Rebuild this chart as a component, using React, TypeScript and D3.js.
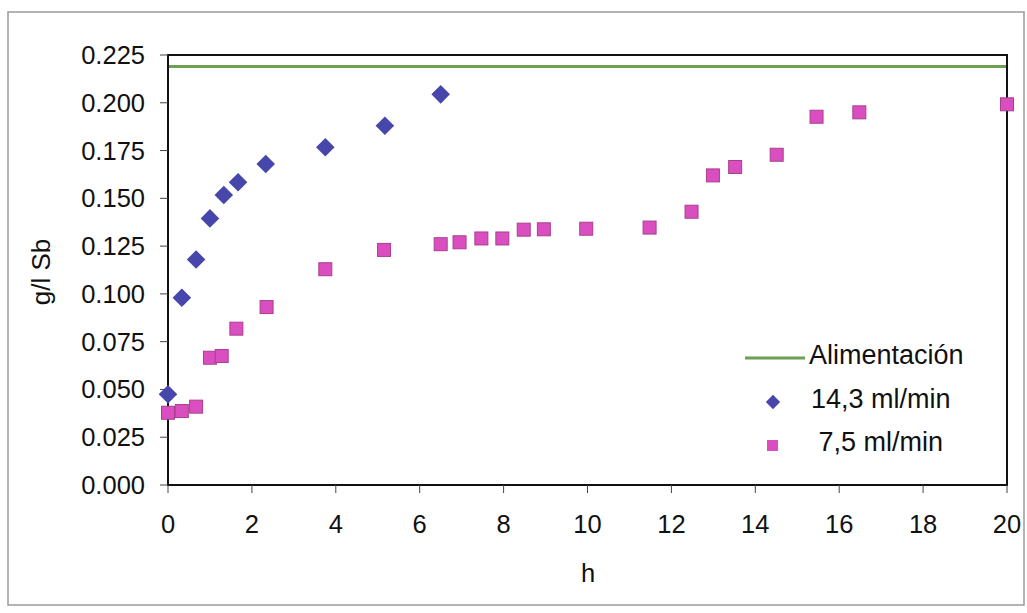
import React from "react";
import * as d3 from "d3";

const feedLevel = 0.219;
const fastX = [0, 0.33, 0.67, 1, 1.33, 1.67, 2.33, 3.75, 5.17, 6.5];
const fastY = [0.0475, 0.098, 0.118, 0.1395, 0.1517, 0.1584, 0.168, 0.1767, 0.188, 0.2044];
const slowX = [0, 0.33, 0.67, 1, 1.28, 1.63, 2.35, 3.75, 5.15, 6.5, 6.95, 7.47, 7.97, 8.48, 8.96, 9.97, 11.48, 12.48, 12.99, 13.52, 14.51, 15.46, 16.48, 20];
const slowY = [0.0378, 0.0387, 0.041, 0.0666, 0.0675, 0.0818, 0.0931, 0.1129, 0.123, 0.126, 0.127, 0.129, 0.129, 0.1336, 0.1338, 0.1341, 0.1347, 0.143, 0.162, 0.1664, 0.1728, 0.1927, 0.195, 0.1992];
const xTicks = [0, 2, 4, 6, 8, 10, 12, 14, 16, 18, 20];
const yTicks = [0, 0.025, 0.05, 0.075, 0.1, 0.125, 0.15, 0.175, 0.2, 0.225];
const legendLabels = ["Alimentación", "14,3 ml/min", " 7,5 ml/min"];

const W = 1027;
const H = 613;
const L = 168, R = 1007, T = 55, B = 485;

export default function App() {
  const x = d3.scaleLinear().domain([0, 20]).range([L, R]);
  const y = d3.scaleLinear().domain([0, 0.225]).range([B, T]);
  const font = "'Liberation Sans', Arial, sans-serif";
  const blue = "#4747AB";
  const pink = "#DA4EC0";
  const pinkEdge = "#A8408F";
  const green = "#6F9E57";
  const diamond = d3.symbol().type(d3.symbolDiamond2).size(220)();
  const diamondSmall = d3.symbol().type(d3.symbolDiamond2).size(130)();
  const fastPts = fastX.map((v, i) => [v, fastY[i]]);
  const slowPts = slowX.map((v, i) => [v, slowY[i]]);
  const sq = 13;
  return (
    <svg width={W} height={H} style={{ position: "absolute", left: 0, top: 0, background: "#fff" }} fontFamily={font}>
      <rect x={8} y={12} width={1016} height={593} fill="none" stroke="#999" strokeWidth={1.5} />
      {/* feed line */}
      <line x1={L} x2={R} y1={y(feedLevel)} y2={y(feedLevel)} stroke={green} strokeWidth={3} />
      {/* plot frame */}
      <rect x={L} y={T} width={R - L} height={B - T} fill="none" stroke="#111" strokeWidth={2} />
      {/* y ticks */}
      {yTicks.map((t) => (
        <g key={"y" + t}>
          <line x1={L - 8} x2={L} y1={y(t)} y2={y(t)} stroke="#444" strokeWidth={1} />
          <text x={145} y={y(t) + 9} textAnchor="end" fontSize={25.5} fill="#111">{t.toFixed(3)}</text>
        </g>
      ))}
      {/* x ticks */}
      {xTicks.map((t) => (
        <g key={"x" + t}>
          <line x1={x(t)} x2={x(t)} y1={B} y2={B + 8} stroke="#444" strokeWidth={1} />
          <text x={x(t)} y={B + 48} textAnchor="middle" fontSize={25.5} fill="#111">{t}</text>
        </g>
      ))}
      <text x={588} y={582} textAnchor="middle" fontSize={25.5} fill="#111">h</text>
      <text transform={`translate(50,272) rotate(-90)`} textAnchor="middle" fontSize={26} fill="#111">g/l Sb</text>
      {/* slow series */}
      {slowPts.map(([a, b], i) => (
        <rect key={"s" + i} x={x(a) - sq / 2} y={y(b) - sq / 2} width={sq} height={sq} fill={pink} stroke={pinkEdge} strokeWidth={1} />
      ))}
      {/* fast series */}
      {fastPts.map(([a, b], i) => (
        <path key={"f" + i} d={diamond} transform={`translate(${x(a)},${y(b)})`} fill={blue} />
      ))}
      {/* legend */}
      <line x1={745} x2={805} y1={358} y2={358} stroke={green} strokeWidth={3} />
      <text x={809} y={364} fontSize={27} fill="#111">{legendLabels[0]}</text>
      <path d={diamondSmall} transform="translate(773,402)" fill={blue} />
      <text x={811} y={408} fontSize={27} fill="#111">{legendLabels[1]}</text>
      <rect x={767} y={440} width={11} height={11} fill={pink} />
      <text x={811} y={451} fontSize={27} fill="#111" style={{ whiteSpace: "pre" }}>{legendLabels[2]}</text>
    </svg>
  );
}
